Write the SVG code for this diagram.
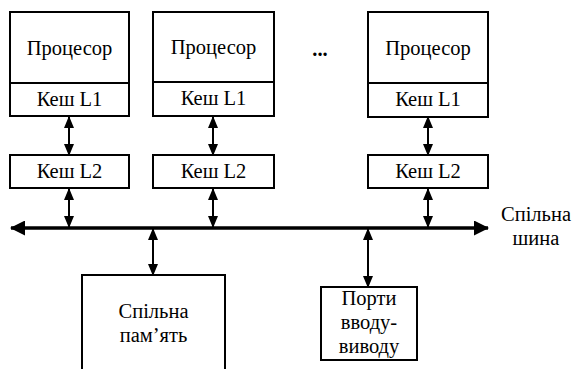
<svg xmlns="http://www.w3.org/2000/svg" width="572" height="369" viewBox="0 0 572 369" font-family="Liberation Serif, serif">
<style>
.box{fill:#fff;stroke:#000;stroke-width:2}
.t{font-size:20.5px;fill:#000;text-anchor:middle}
.ar{stroke:#000;stroke-width:2;fill:none;marker-start:url(#ah);marker-end:url(#ah)}
.bus{stroke:#000;stroke-width:3.5;fill:none;marker-start:url(#bh);marker-end:url(#bh)}
</style>
<defs>
<marker id="ah" viewBox="0 0 12 10" refX="11" refY="5" markerWidth="12" markerHeight="10" markerUnits="userSpaceOnUse" orient="auto-start-reverse"><path d="M0,0 L12,5 L0,10 Z" fill="#000"/></marker>
<marker id="bh" viewBox="0 0 15 15" refX="14" refY="7.5" markerWidth="15" markerHeight="15" markerUnits="userSpaceOnUse" orient="auto-start-reverse"><path d="M0,0 L15,7.5 L0,15 Z" fill="#000"/></marker>
</defs>
<g id="connectors">
<line class="bus" x1="11" y1="228" x2="488" y2="228"/>
<line class="ar" x1="69" y1="117" x2="69" y2="155"/>
<line class="ar" x1="213" y1="117" x2="213" y2="155"/>
<line class="ar" x1="428" y1="117" x2="428" y2="155"/>
<line class="ar" x1="69" y1="189" x2="69" y2="227"/>
<line class="ar" x1="213" y1="189" x2="213" y2="227"/>
<line class="ar" x1="428" y1="189" x2="428" y2="227"/>
<line class="ar" x1="153" y1="229" x2="153" y2="275"/>
<line class="ar" x1="368" y1="229" x2="368" y2="287"/>
</g>
<g id="proc1"><rect class="box" x="10" y="12" width="119" height="104"/><line x1="10" y1="83" x2="129" y2="83" stroke="#000" stroke-width="2"/><text class="t" x="69.5" y="55">Процесор</text><text class="t" x="69.5" y="106">Кеш L1</text></g>
<g id="proc2"><rect class="box" x="153" y="12" width="121" height="104"/><line x1="153" y1="82" x2="274" y2="82" stroke="#000" stroke-width="2"/><text class="t" x="213.5" y="54">Процесор</text><text class="t" x="213.5" y="105">Кеш L1</text></g>
<g id="proc3"><rect class="box" x="368" y="12" width="120" height="105"/><line x1="368" y1="83" x2="488" y2="83" stroke="#000" stroke-width="2"/><text class="t" x="428" y="55">Процесор</text><text class="t" x="428" y="106">Кеш L1</text></g>
<g id="dots"><text class="t" x="320" y="56" font-weight="bold">...</text></g>
<g id="l2a"><rect class="box" x="10" y="155" width="119" height="33"/><text class="t" x="69.5" y="178">Кеш L2</text></g>
<g id="l2b"><rect class="box" x="153" y="155" width="121" height="33"/><text class="t" x="213.5" y="178">Кеш L2</text></g>
<g id="l2c"><rect class="box" x="368" y="155" width="120" height="33"/><text class="t" x="428" y="178">Кеш L2</text></g>
<g id="memory"><rect class="box" x="82" y="275" width="143" height="100"/><text class="t" x="153.5" y="318">Спільна</text><text class="t" x="153.5" y="342">пам’ять</text></g>
<g id="io"><rect class="box" x="321" y="287" width="96" height="73"/><text class="t" x="369" y="305">Порти</text><text class="t" x="369" y="329">вводу-</text><text class="t" x="369" y="353">виводу</text></g>
<g id="buslabel"><text class="t" x="536" y="221">Спільна</text><text class="t" x="536" y="245">шина</text></g>
</svg>
